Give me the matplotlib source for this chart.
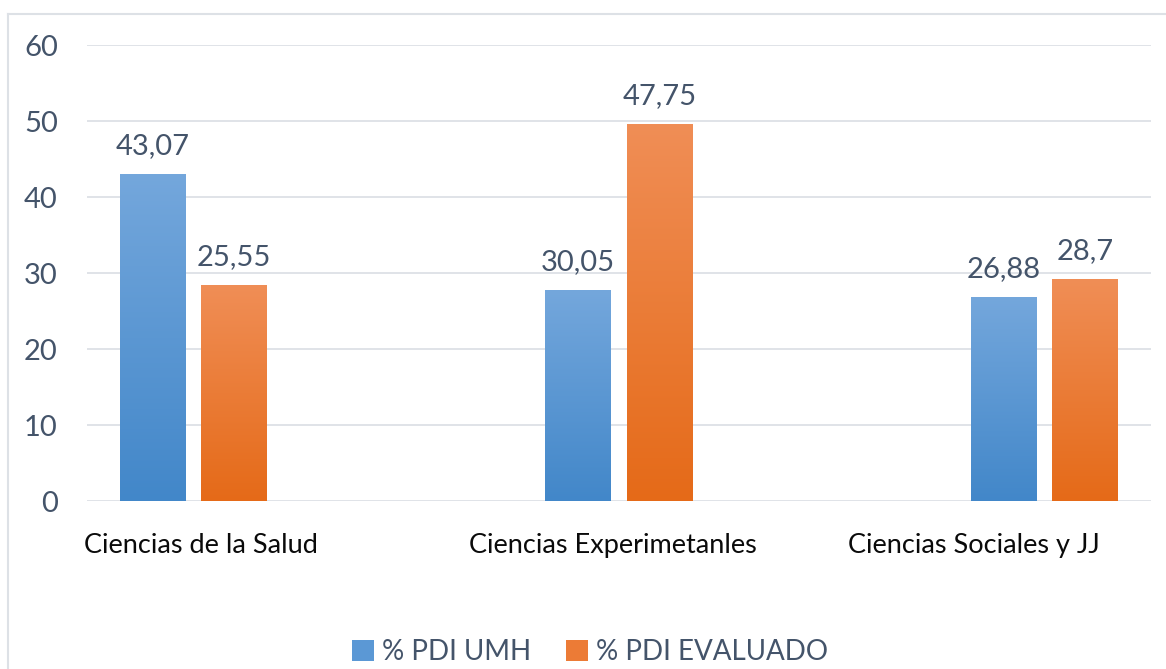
import numpy as np
import matplotlib
matplotlib.use("Agg")
import matplotlib.pyplot as plt
from matplotlib.patches import Patch
from matplotlib.colors import LinearSegmentedColormap
import matplotlib.transforms as mtransforms

# ---- data ----
categories = ["Ciencias de la Salud", "Ciencias Experimetanles", "Ciencias Sociales y JJ"]
series_names = ["% PDI UMH", "% PDI EVALUADO"]
umh_values = [43.0, 27.7, 26.8]          # bar heights as drawn
evaluado_values = [28.4, 49.6, 29.2]
umh_labels = ["43,07", "30,05", "26,88"]  # data labels as printed
evaluado_labels = ["25,55", "47,75", "28,7"]
y_ticks = [0, 10, 20, 30, 40, 50, 60]

plt.rcParams['font.family'] = ['Lato', 'DejaVu Sans']

W, H = 1166, 669
fig = plt.figure(figsize=(W / 100, H / 100), dpi=100)
ax = fig.add_axes([87 / W, (H - 501) / H, (1151 - 87) / W, (501 - 45) / H])

x = np.arange(len(categories))
bw = 0.155
off = 0.096
blue_top, blue_bot = "#74A7DC", "#4287C9"
orng_top, orng_bot = "#F08E56", "#E56A18"
label_col = "#44546A"

def grad_bars(xpos, vals, ctop, cbot):
    bars = ax.bar(xpos, vals, width=bw, color="none", edgecolor="none", zorder=3)
    cmap = LinearSegmentedColormap.from_list("g", [cbot, ctop])
    grad = np.linspace(0, 1, 256).reshape(-1, 1)
    for b in bars:
        x0, y0 = b.get_x(), b.get_y()
        w, h = b.get_width(), b.get_height()
        im = ax.imshow(grad, cmap=cmap, origin="lower", aspect="auto",
                       extent=(x0, x0 + w, y0, y0 + h), zorder=3)
        im.set_clip_path(b)
    return bars

b1 = grad_bars(x - off, umh_values, blue_top, blue_bot)
b2 = grad_bars(x + off, evaluado_values, orng_top, orng_bot)

for bars, labs in ((b1, umh_labels), (b2, evaluado_labels)):
    for b, lab in zip(bars, labs):
        ax.annotate(lab, (b.get_x() + b.get_width() / 2, b.get_height()),
                    xytext=(0, 11), textcoords="offset points",
                    ha="center", va="bottom", fontsize=21, color=label_col)

ax.set_xlim(-0.25, 2.25)
ax.set_ylim(0, 60)
ax.set_yticks(y_ticks)
ax.set_yticklabels([str(t) for t in y_ticks])
ax.tick_params(axis="y", length=0, pad=21, labelsize=21, labelcolor=label_col)
ax.grid(axis="y", color="#DDE1E6", linewidth=1.3, zorder=0)
ax.set_axisbelow(True)
for s in ax.spines.values():
    s.set_visible(False)

ax.set_xticks(x)
ax.set_xticklabels(categories, fontsize=19.5, color="#0A0A0A")
ax.tick_params(axis="x", length=0, pad=23)
shifts = [8, -6, -71]
for lab, dx in zip(ax.get_xticklabels(), shifts):
    lab.set_transform(lab.get_transform() + mtransforms.ScaledTranslation(dx / 100, 0, fig.dpi_scale_trans))

handles = [Patch(facecolor="#5B98D5", edgecolor="none"), Patch(facecolor="#EC7B36", edgecolor="none")]
fig.legend(handles, series_names, loc="center", bbox_to_anchor=(590 / W, (H - 652) / H),
           ncol=2, frameon=False, fontsize=20, labelcolor=label_col,
           handlelength=0.8, handleheight=0.8, handletextpad=0.3, columnspacing=1.25)

# chart-area border (left and top edges visible)
fig.add_artist(plt.Line2D([7.5 / W, 7.5 / W], [0, (H - 13.5) / H], color="#DDE1E6", lw=1.5, transform=fig.transFigure))
fig.add_artist(plt.Line2D([7.5 / W, 1], [(H - 13.5) / H, (H - 13.5) / H], color="#DDE1E6", lw=1.5, transform=fig.transFigure))

fig.savefig("out.png", dpi=100)
